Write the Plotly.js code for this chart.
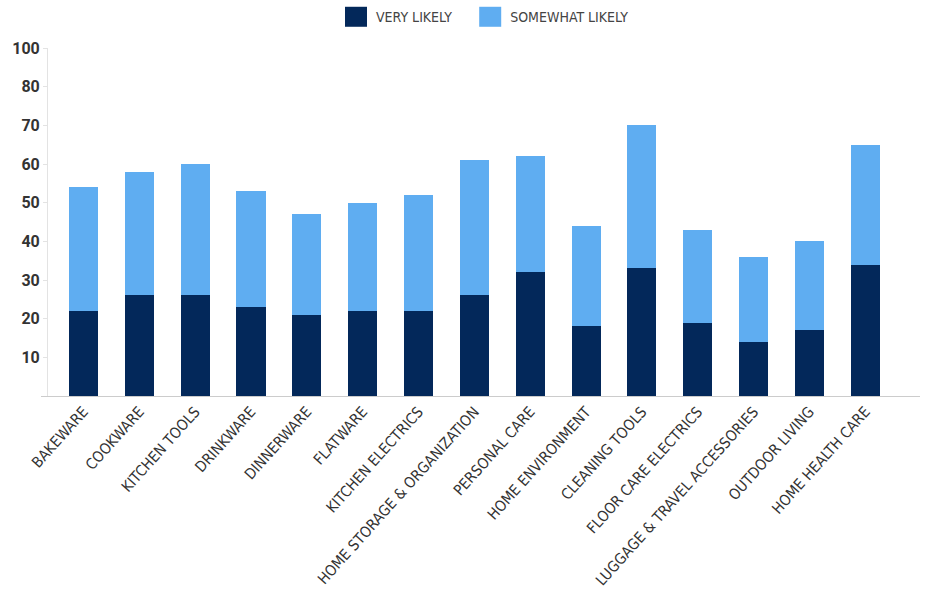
<!DOCTYPE html>
<html>
<head>
<meta charset="utf-8">
<script src="https://cdn.plot.ly/plotly-3.0.1.min.js"></script>
<style>html,body{margin:0;padding:0;background:#fff;}#chart{width:926px;height:589px;}</style>
</head>
<body>
<div id="chart"></div>
<script>
const categories = ["BAKEWARE","COOKWARE","KITCHEN TOOLS","DRINKWARE","DINNERWARE","FLATWARE","KITCHEN ELECTRICS","HOME STORAGE & ORGANIZATION","PERSONAL CARE","HOME ENVIRONMENT","CLEANING TOOLS","FLOOR CARE ELECTRICS","LUGGAGE & TRAVEL ACCESSORIES","OUTDOOR LIVING","HOME HEALTH CARE"];
const veryLikely = [22,26,26,23,21,22,22,26,32,18,33,19,14,17,34];
const somewhatLikely = [32,32,34,30,26,28,30,35,30,26,37,24,22,23,31];
const yTickVals = [10,20,30,40,50,60,70,80,90];
const yTickText = ["10","20","30","40","50","60","70","80","100"];

const labelFont = "'Liberation Sans Narrow', 'DejaVu Sans Condensed', 'Roboto Condensed', sans-serif";

const traces = [
  {type:'bar', name:'VERY LIKELY', x:categories, y:veryLikely, marker:{color:'#03285a', line:{width:0}}},
  {type:'bar', name:'SOMEWHAT LIKELY', x:categories, y:somewhatLikely, marker:{color:'#5fadf1', line:{width:0}}}
];

const layout = {
  width:926, height:589,
  margin:{l:41, r:6, t:48, b:193},
  barmode:'stack',
  bargap:0.48,
  paper_bgcolor:'#fff', plot_bgcolor:'#fff',
  showlegend:true,
  legend:{orientation:'h', x:0.5, xanchor:'center', y:0.998, yanchor:'top', yref:'container', font:{family:labelFont, size:14, color:'#444'}, traceorder:'normal', itemwidth:30},
  xaxis:{type:'category', range:[-0.76, 14.98], showgrid:false, showline:true, linecolor:'#cccccc', linewidth:1, ticks:'', tickangle:-48, tickfont:{family:labelFont, size:15, color:'#333'}, fixedrange:true},
  yaxis:{range:[0,90], anchor:'free', position:0.0068, tickvals:yTickVals, ticktext:yTickText, showgrid:false, zeroline:false, showline:true, linecolor:'#e3e3e3', linewidth:1, ticks:'outside', ticklen:4, tickcolor:'#e3e3e3', tickfont:{family:"Roboto, Arial, sans-serif", size:16, color:'#333', weight:'bold'}}
};

Plotly.newPlot('chart', traces, layout, {displayModeBar:false, staticPlot:true}).then(function(gd){
  gd.querySelectorAll('.legend [clip-path]').forEach(function(el){ el.removeAttribute('clip-path'); });
  gd.querySelectorAll('.legend .legendpoints path').forEach(function(p){
    p.setAttribute('d','M-6,-10h22v20h-22z');
  });
  gd.querySelectorAll('.legend .legendtext').forEach(function(t){
    var x = parseFloat(t.getAttribute('x')) || 0;
    t.setAttribute('x', x + 5);
  });
  var items = gd.querySelectorAll('.legend .traces');
  items.forEach(function(g, i){
    var tr = g.getAttribute('transform') || '';
    var m = tr.match(/translate\(\s*([-\d.]+)[ ,]+([-\d.]+)\s*\)/);
    if (m) {
      var dx = (i === 0) ? -7 : 6;
      g.setAttribute('transform', 'translate(' + (parseFloat(m[1]) + dx) + ',' + m[2] + ')');
    }
  });
});
</script>
</body>
</html>
